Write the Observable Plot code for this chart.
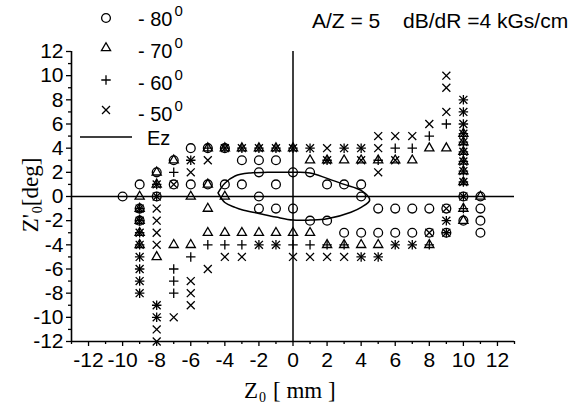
<!DOCTYPE html>
<html><head><meta charset="utf-8">
<script src="https://cdn.jsdelivr.net/npm/d3@7"></script>
<script src="https://cdn.jsdelivr.net/npm/@observablehq/plot@0.6"></script>
<style>
body{margin:0;background:#fff;}
#wrap{position:relative;width:579px;height:406px;overflow:hidden;font-family:"Liberation Sans",Arial,sans-serif;color:#000;}
#wrap svg{position:absolute;left:0;top:0;}
.t{position:absolute;white-space:nowrap;line-height:1;}
.serif{font-family:"Liberation Serif","Times New Roman",serif;}
</style></head><body><div id="wrap"></div>
<script>
// ---- data ----
const xDomain = [-13, 13];
const yDomain = [-12, 12];
const xTicks = [-12,-10,-8,-6,-4,-2,0,2,4,6,8,10,12];
const xMinor = [-13,-11,-9,-7,-5,-3,-1,1,3,5,7,9,11,13];
const yTicks = [-12,-10,-8,-6,-4,-2,0,2,4,6,8,10,12];
const yMinor = [-11,-9,-7,-5,-3,-1,1,3,5,7,9,11];

const legendLabels = ["- 80", "- 70", "- 60", "- 50"];
const lineLabel = "Ez";
const titleLeft = "A/Z = 5";
const titleRight = "dB/dR =4 kGs/cm";

// -80 deg (circles)
const circle80 = [[-10,0],[-9,1],[-9,-1],[-9,-2],[-8,2],[-8,0],[-7,3],[-7,1],[-6,4],[-6,1],[-5,4],[-5,1],
 [-4,4],[-4,1],[-3,3],[-3,1],[-2,3],[-2,2],[-2,0],[-2,-1],[-1,3],[-1,1],[-1,-1],[0,2],[0,-1],[1,2],[1,-2],
 [2,1],[2,-2],[3,1],[3,-3],[4,1],[4,0],[4,-3],[5,-1],[5,-3],[6,-1],[6,-3],[7,-1],[7,-3],[8,-1],[8,-3],
 [9,-1],[9,-3],[10,0],[10,-2],[11,0],[11,-1],[11,-2],[11,-3]];
// -70 deg (triangles)
const triangle70 = [[-9,0],[-9,-1],[-9,-2],[-9,-3],[-9,-4],[-8,2],[-8,1],[-8,-5],[-7,3],[-7,-4],[-6,0],[-6,-4],
 [-5,4],[-5,1],[-5,-1],[-5,-3],[-4,4],[-4,0],[-4,-3],[-3,4],[-3,-3],[-2,4],[-2,-3],[-1,4],[-1,-3],[0,4],[0,-3],
 [1,3],[1,-3],[2,3],[2,-4],[3,3],[3,-4],[4,3],[4,-4],[5,3],[5,-4],[6,3],[7,3],[8,4],[8,-4],[9,4],
 [10,5.2],[10,4.5],[10,3.7],[10,2.9],[10,2.1],[10,1.2],[10,-1],[10,-2],[11,0]];
// -60 deg (plus)
const plus60 = [[-9,-1],[-9,-2],[-9,-3],[-9,-4],[-9,-5],[-9,-6],[-9,-7],[-9,-8],[-8,1],[-8,0],[-8,-9],[-8,-10],
 [-7,2],[-7,-6],[-7,-7],[-7,-8],[-6,3],[-6,-5],[-5,4],[-5,-4],[-4,4],[-4,-4],[-3,4],[-3,-4],[-2,4],[-2,-4],
 [-1,4],[-1,-4],[0,4],[0,-4],[1,4],[1,-4],[2,3],[2,-4],[3,4],[3,-4],[4,4],[4,-5],[5,3],[5,-5],[6,4],[6,-4],
 [7,4],[7,-4],[8,5],[8,-4],[9,6],[9,-2],[9,-3],
 [10,8],[10,7],[10,6],[10,5.2],[10,4.5],[10,3.7],[10,2.9],[10,2.1],[10,1.2],[10,0],[10,-1]];
// -50 deg (times)
const times50 = [[-9,-1],[-9,-2],[-9,-3],[-9,-4],[-9,-5],[-9,-6],[-9,-7],[-9,-8],[-8,1],[-8,0],[-8,-1],[-8,-2],
 [-8,-3],[-8,-4],[-8,-9],[-8,-10],[-8,-11],[-8,-12],[-7,1],[-7,-10],[-6,3],[-6,2],[-6,-7],[-6,-8],[-6,-9],
 [-5,3],[-5,-6],[-4,4],[-4,-5],[-3,4],[-3,-5],[-2,4],[-2,-4],[-1,4],[-1,-4],[0,4],[0,-5],[1,4],[1,-5],
 [2,4],[2,3],[2,-5],[3,4],[3,-5],[4,4],[4,3],[4,-5],[5,5],[5,4],[5,2],[5,-5],[6,5],[6,3],[6,-4],[7,5],[7,-4],
 [8,6],[8,-3],[9,10],[9,9],[9,7],[9,-1],[9,-2],[9,-3],
 [10,8],[10,7],[10,6],[10,5.2],[10,4.5],[10,3.7],[10,2.9],[10,2.1],[10,1.2],[10,0]];
// Ez curve (closed)
const ezX = [-4.4,-4.0,-3.4,-2.5,-1.5,0,1,2,3,4,4.5,4,3.4,2,1,0,-1,-2,-3,-3.4,-4,-4.4];
const ezY = [0.3,1.1,1.7,1.95,2,2,1.95,1.5,1.0,0.5,-0.3,-0.9,-1.3,-1.85,-1.95,-1.95,-1.7,-1.4,-1.1,-0.9,-0.5,0.3];

// ---- chart ----
const ez = ezX.map((x,i)=>({x, y: ezY[i]}));
const pt = arr => arr.map(([x,y])=>({x,y}));
const ink = "#000";
const sw = 1.3;
const fmt = d => String(d);

const chart = Plot.plot({
  width: 579, height: 406,
  marginLeft: 71, marginRight: 65, marginTop: 51, marginBottom: 65,
  x: {domain: xDomain},
  y: {domain: yDomain},
  style: {fontFamily: "'Liberation Sans', Arial, sans-serif", fontSize: "21px", background: "white", color: ink},
  marks: [
    Plot.ruleY([0], {stroke: ink, strokeWidth: 1.5}),
    Plot.ruleX([0], {stroke: ink, strokeWidth: 1.5}),
    Plot.ruleX([xDomain[0]], {stroke: ink, strokeWidth: 1.6}),
    Plot.ruleY([yDomain[0]], {stroke: ink, strokeWidth: 1.6}),
    Plot.axisX({ticks: xTicks, tickSize: 5, tickPadding: 6, fontSize: 21, tickFormat: fmt, label: null, strokeWidth: 1.3}),
    Plot.axisX({ticks: xMinor, tickSize: 3, tickFormat: () => "", label: null, strokeWidth: 1.3}),
    Plot.axisY({ticks: yTicks, tickSize: 5, tickPadding: 3, fontSize: 21, tickFormat: fmt, label: null, strokeWidth: 1.3}),
    Plot.axisY({ticks: yMinor, tickSize: 3, tickFormat: () => "", label: null, strokeWidth: 1.3}),
    Plot.line(ez, {x: "x", y: "y", stroke: ink, strokeWidth: 1.5, curve: "catmull-rom"}),
    Plot.dot(pt(circle80), {x: "x", y: "y", symbol: "circle", r: 4.4, stroke: ink, fill: "none", strokeWidth: sw}),
    Plot.dot(pt(triangle70), {x: "x", y: "y", symbol: "triangle", r: 3.4, stroke: ink, fill: "none", strokeWidth: sw}),
    Plot.dot(pt(plus60), {x: "x", y: "y", symbol: "plus", r: 3.15, stroke: ink, fill: "none", strokeWidth: sw}),
    Plot.dot(pt(times50), {x: "x", y: "y", symbol: "times", r: 3.7, stroke: ink, fill: "none", strokeWidth: sw})
  ]
});
const wrap = document.getElementById("wrap");
wrap.appendChild(chart);

// ---- legend overlay ----
const lg = d3.select(wrap).append("svg").attr("width", 579).attr("height", 160)
  .style("pointer-events","none");
const symNames = [d3.symbolCircle, d3.symbolTriangle, d3.symbolPlus, d3.symbolTimes];
const symR = [4.4, 3.4, 3.15, 3.7];
const symY = [18, 48, 80, 110];
symNames.forEach((s,i)=>{
  lg.append("path").attr("d", d3.symbol(s, Math.PI*symR[i]*symR[i])())
    .attr("transform", `translate(106,${symY[i]})`)
    .attr("fill","none").attr("stroke",ink).attr("stroke-width",sw);
});
lg.append("line").attr("x1",80).attr("x2",132).attr("y1",137).attr("y2",137).attr("stroke",ink).attr("stroke-width",1.6);

function addText(html, left, baseline, size, cls) {
  const d = document.createElement("div");
  d.className = "t" + (cls ? " " + cls : "");
  d.style.fontSize = size + "px";
  d.style.left = left + "px";
  d.innerHTML = html;
  wrap.appendChild(d);
  const probe = document.createElement("span");
  probe.style.display = "inline-block"; probe.style.width = "0"; probe.style.height = "0";
  d.appendChild(probe);
  d.style.top = "0px";
  const bl = probe.getBoundingClientRect().top - d.getBoundingClientRect().top;
  d.style.top = (baseline - bl) + "px";
  return d;
}
const baseY = [26, 58, 90, 121];
legendLabels.forEach((lab,i)=>{
  addText(lab + '<span style="font-size:15px;position:relative;top:-10px;margin-left:2px">0</span>', 138, baseY[i], 20);
});
addText(lineLabel, 147, 145, 20);
addText(titleLeft, 312, 28, 21);
addText(titleRight, 403, 28, 21);

addText('Z<span style="font-size:14px;position:relative;top:4px;margin-left:1px;margin-right:7px">0</span>[ mm ]', 244, 398, 23, "serif");

const yl = addText("Z'<span style=\"font-size:14px;position:relative;top:4px;margin-left:1px\">0</span>[deg]", 0, 0, 23, "serif");
yl.style.left = "30px"; yl.style.top = "195px";
yl.style.transform = "translate(-50%,-50%) rotate(-90deg)";
</script>
</body></html>
